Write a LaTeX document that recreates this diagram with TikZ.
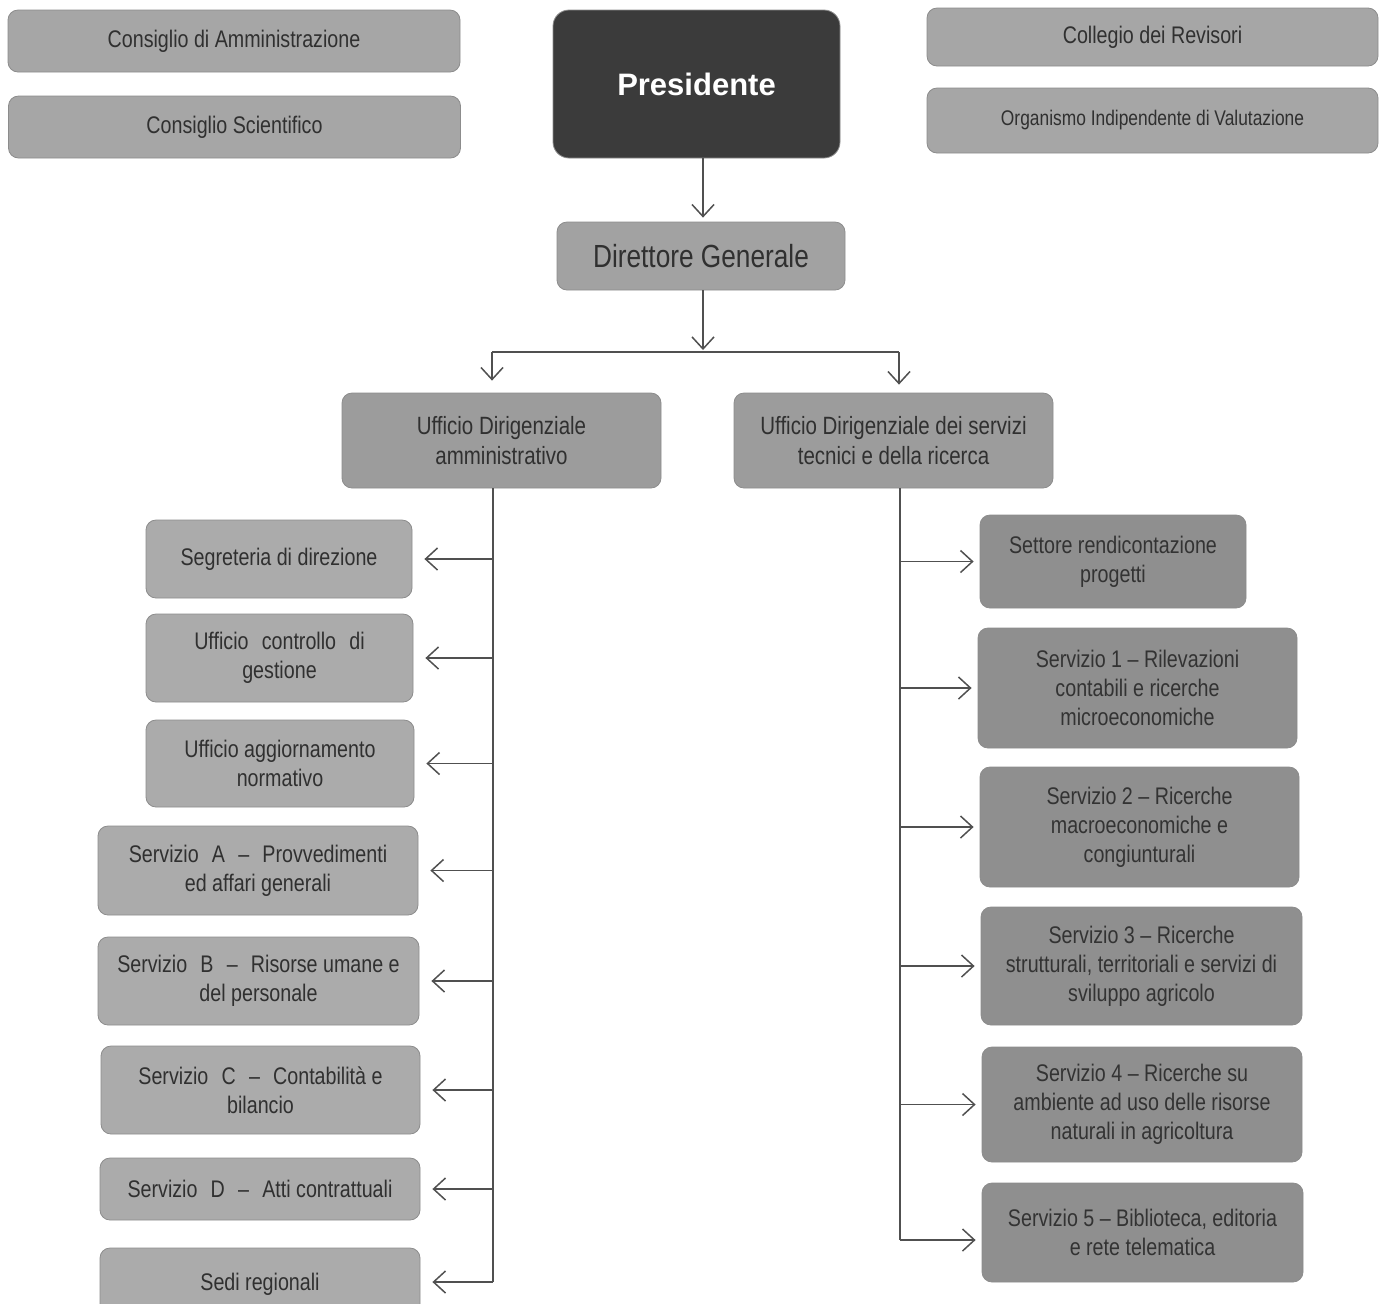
\documentclass[tikz,border=0pt]{standalone}
\usepackage{fontspec}
\setmainfont{Liberation Sans}[FakeStretch=0.82]
\newfontfamily\presfont{Liberation Sans}
\usetikzlibrary{arrows.meta}
\definecolor{topgray}{HTML}{A6A6A6}
\definecolor{presgray}{HTML}{3B3B3B}
\definecolor{dggray}{HTML}{A2A2A2}
\definecolor{udgray}{HTML}{9C9C9C}
\definecolor{leftgray}{HTML}{ABABAB}
\definecolor{rightgray}{HTML}{8F8F8F}
\definecolor{txtgray}{HTML}{303030}
\definecolor{linegray}{HTML}{505050}
\newcommand{\ws}{\hspace{0.55em}}
\tikzset{
  box/.style={rounded corners=5pt, draw=black!45, line width=0.4pt, align=center, inner sep=0pt,
    text=txtgray, font=\fontsize{12}{14.5}\selectfont},
  topbox/.style={box, fill=topgray},
  presbox/.style={box, fill=presgray, rounded corners=8pt, text=white, font=\presfont\bfseries\fontsize{15.5}{18}\selectfont},
  dgbox/.style={box, fill=dggray, font=\fontsize{16}{19}\selectfont},
  udbox/.style={box, fill=udgray, font=\fontsize{12.5}{15}\selectfont},
  lbox/.style={box, fill=leftgray},
  rbox/.style={box, fill=rightgray, text=black!80},
  conn/.style={draw=linegray, line width=0.75pt},
  arr/.style={conn, -{Straight Barb[length=6pt,width=11pt]}}
}
\begin{document}
\begin{tikzpicture}[x=0.5pt,y=-0.5pt]
\path[use as bounding box] (0,0) rectangle (1386,1303);
% top row
\node[topbox, minimum width=226pt, minimum height=31pt] (ca) at (234,41) {Consiglio di Amministrazione};
\node[topbox, minimum width=226pt, minimum height=31pt] (cs) at (234.5,127) {Consiglio Scientifico};
\node[presbox, minimum width=143.5pt, minimum height=74pt] (pres) at (696.5,84) {Presidente};
\node[topbox, minimum width=225.5pt, minimum height=29pt] (cr) at (1152.5,37) {Collegio dei Revisori};
\node[topbox, minimum width=225.5pt, minimum height=32.5pt, font=\fontsize{10.6}{13}\selectfont] (oiv) at (1152.5,120.5) {Organismo Indipendente di Valutazione};
\node[dgbox, minimum width=144pt, minimum height=34pt] (dg) at (701,256) {Direttore Generale};
\node[udbox, minimum width=159.5pt, minimum height=47.5pt] (uda) at (501.5,440.5) {Ufficio Dirigenziale\\amministrativo};
\node[udbox, minimum width=159.5pt, minimum height=47.5pt] (udt) at (893.5,440.5) {Ufficio Dirigenziale dei servizi\\tecnici e della ricerca};
% left column
\node[lbox, minimum width=133pt, minimum height=39pt] (seg) at (279,559) {Segreteria di direzione};
\node[lbox, minimum width=133.5pt, minimum height=44pt] (ucg) at (279.5,658) {Ufficio\ws controllo\ws di\\gestione};
\node[lbox, minimum width=134pt, minimum height=43.5pt] (uan) at (280,763.5) {Ufficio aggiornamento\\normativo};
\node[lbox, minimum width=160pt, minimum height=44.5pt] (sa) at (258,870.5) {Servizio\ws A\ws –\ws Provvedimenti\\ed affari generali};
\node[lbox, minimum width=160.5pt, minimum height=44pt] (sb) at (258.5,981) {Servizio\ws B\ws –\ws Risorse umane e\\del personale};
\node[lbox, minimum width=159.5pt, minimum height=44pt] (sc) at (260.5,1090) {Servizio\ws C\ws –\ws Contabilità e\\bilancio};
\node[lbox, minimum width=160pt, minimum height=31pt] (sd) at (260,1189) {Servizio\ws D\ws –\ws Atti contrattuali};
\node[lbox, minimum width=160pt, minimum height=36pt] (sr) at (260,1284) {Sedi regionali};
% right column
\node[rbox, minimum width=133pt, minimum height=46.5pt] (srp) at (1113,561.5) {Settore rendicontazione\\progetti};
\node[rbox, minimum width=159.5pt, minimum height=60pt] (s1) at (1137.5,688) {Servizio 1 – Rilevazioni\\contabili e ricerche\\microeconomiche};
\node[rbox, minimum width=159.5pt, minimum height=60pt] (s2) at (1139.5,827) {Servizio 2 – Ricerche\\macroeconomiche e\\congiunturali};
\node[rbox, minimum width=160.5pt, minimum height=59pt] (s3) at (1141.5,966) {Servizio 3 – Ricerche\\strutturali, territoriali e servizi di\\sviluppo agricolo};
\node[rbox, minimum width=160pt, minimum height=57.5pt] (s4) at (1142,1104.5) {Servizio 4 – Ricerche su\\ambiente ad uso delle risorse\\naturali in agricoltura};
\node[rbox, minimum width=160.5pt, minimum height=49.5pt] (s5) at (1142.5,1232.5) {Servizio 5 – Biblioteca, editoria\\e rete telematica};
% junction coordinates
\coordinate (jm) at (703,350);
\coordinate (jl) at (492,352);
\coordinate (jr) at (899,352);
\coordinate (lb) at (493,1282);
\coordinate (rb) at (900,1240);
% connectors
\draw[arr, shorten >=2pt] (pres.south -| jm) -- (dg.north -| jm);
\draw[arr] (dg.south -| jm) -- (jm);
\draw[conn] (jl) -- (jr);
\draw[arr, shorten >=6pt] (jl) -- (jl |- uda.north);
\draw[arr, shorten >=4pt] (jr) -- (jr |- udt.north);
% left trunk
\draw[conn] (uda.south -| lb) -- (lb);
\foreach \n in {seg,ucg,uan,sa,sb,sc,sd}
  \draw[arr, shorten >=6pt] (\n.east -| lb) -- (\n.east);
\draw[arr, shorten >=6pt] (lb) -- (lb -| sr.east);
% right trunk
\draw[conn] (udt.south -| rb) -- (rb);
\foreach \n in {srp,s1,s2,s3,s4}
  \draw[arr, shorten >=3pt] (\n.west -| rb) -- (\n.west);
\draw[arr, shorten >=3pt] (rb) -- (rb -| s5.west);
\end{tikzpicture}
\end{document}
